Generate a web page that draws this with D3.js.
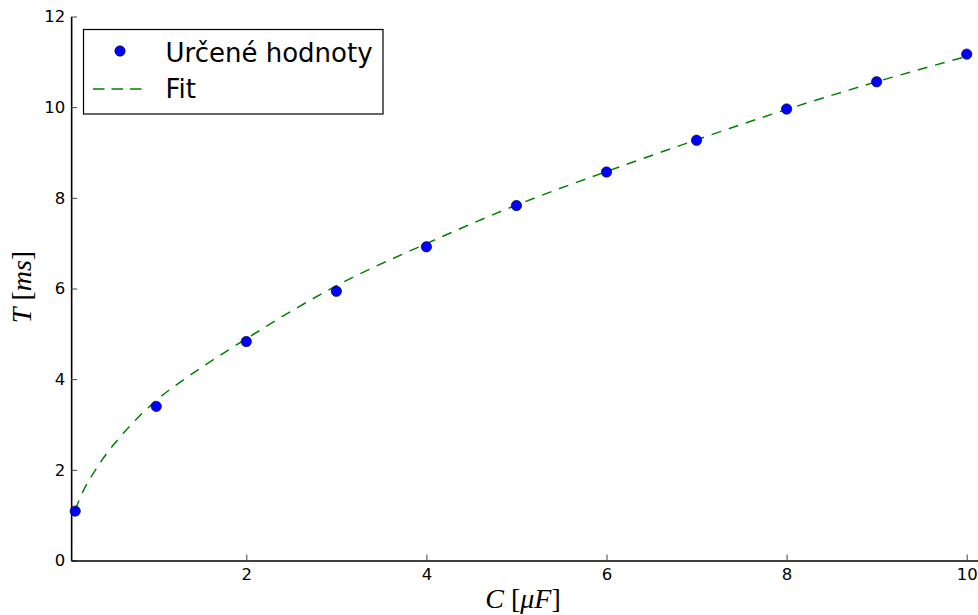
<!DOCTYPE html>
<html>
<head>
<meta charset="utf-8">
<script src="https://cdn.jsdelivr.net/npm/d3@7"></script>
<style>
  html, body { margin: 0; padding: 0; background: #fff; }
  svg { display: block; }
</style>
</head>
<body>
<svg id="chart" width="978" height="615"></svg>
<script>
// Measured oscillation period T [ms] against capacitance C [µF]
const capacitance = [0.1, 1, 2, 3, 4, 5, 6, 7, 8, 9, 10];
const period = [1.09, 3.40, 4.83, 5.94, 6.92, 7.83, 8.57, 9.27, 9.96, 10.56, 11.17];

// Fitted curve, sampled along C
const fitC = [0.1, 0.2, 0.3, 0.45, 0.7, 1, 1.4, 1.8, 2, 2.5, 3, 4, 5, 6, 7, 8, 9, 10];
const fitT = [1.12, 1.58, 1.92, 2.36, 2.95, 3.53, 4.12, 4.64, 4.89, 5.50, 6.06, 6.99, 7.84, 8.58, 9.28, 9.95, 10.56, 11.12];

const xTicks = [2, 4, 6, 8, 10];
const yTicks = [0, 2, 4, 6, 8, 10, 12];
const legendLabels = ["Určené hodnoty", "Fit"];

const svg = d3.select("#chart");

const pxPerC = 90.05;
const c0 = 66.2;
const xMin = 0.055, xMax = 10.13;
const x = d3.scaleLinear()
  .domain([xMin, xMax])
  .range([c0 + xMin * pxPerC, c0 + xMax * pxPerC]);

const y = d3.scaleLinear()
  .domain([0, 12])
  .range([560.5, 16.5]);

const tickFont = "DejaVu Sans, Verdana, sans-serif";

// Left axis (ticks point inward)
const yAxis = svg.append("g")
  .attr("transform", `translate(${x(xMin)},0)`)
  .call(d3.axisLeft(y).tickValues(yTicks).tickSizeInner(-6).tickSizeOuter(0).tickPadding(6));

// Bottom axis
const xAxis = svg.append("g")
  .attr("transform", `translate(0,${y(0)})`)
  .call(d3.axisBottom(x).tickValues(xTicks).tickSizeInner(-6).tickSizeOuter(0).tickPadding(8));

[xAxis, yAxis].forEach(g => {
  g.select(".domain").attr("stroke", "#000").attr("stroke-width", 1.6);
  g.selectAll(".tick line").attr("stroke", "#444").attr("stroke-width", 1);
  g.selectAll(".tick text")
    .attr("fill", "#000")
    .style("font-family", tickFont)
    .style("font-size", "16.5px");
});

// Fit curve
const fitLine = d3.line()
  .x((d, i) => x(fitC[i]))
  .y(d => y(d))
  .curve(d3.curveMonotoneX);

svg.append("path")
  .datum(fitT)
  .attr("d", fitLine)
  .attr("fill", "none")
  .attr("stroke", "#008000")
  .attr("stroke-width", 1.5)
  .attr("stroke-dasharray", "10,8");

// Measured points
svg.append("g")
  .selectAll("circle")
  .data(period)
  .join("circle")
  .attr("cx", (d, i) => x(capacitance[i]))
  .attr("cy", d => y(d))
  .attr("r", 5.2)
  .attr("fill", "#0000ff")
  .attr("stroke", "#000")
  .attr("stroke-width", 0.6);

// Axis titles (math-style: italic symbols, upright brackets)
const mathFont = "Liberation Serif, DejaVu Serif, serif";

const xTitle = svg.append("text")
  .attr("x", 523)
  .attr("y", 608)
  .attr("text-anchor", "middle")
  .style("font-family", mathFont)
  .style("font-size", "28px")
  .attr("fill", "#000");
xTitle.append("tspan").style("font-style", "italic").text("C");
xTitle.append("tspan").text(" [");
xTitle.append("tspan").style("font-style", "italic").text("μF");
xTitle.append("tspan").text("]");

const yTitle = svg.append("text")
  .attr("transform", "translate(31,287) rotate(-90)")
  .attr("text-anchor", "middle")
  .style("font-family", mathFont)
  .style("font-size", "28px")
  .attr("fill", "#000");
yTitle.append("tspan").style("font-style", "italic").text("T");
yTitle.append("tspan").text(" [");
yTitle.append("tspan").style("font-style", "italic").text("ms");
yTitle.append("tspan").text("]");

// Legend
const legend = svg.append("g");
legend.append("rect")
  .attr("x", 83.5).attr("y", 29.5)
  .attr("width", 299.5).attr("height", 84.5)
  .attr("fill", "#fff")
  .attr("stroke", "#000")
  .attr("stroke-width", 1.2);

legend.append("circle")
  .attr("cx", 120).attr("cy", 51)
  .attr("r", 5.2)
  .attr("fill", "#0000ff")
  .attr("stroke", "#000")
  .attr("stroke-width", 0.6);

legend.append("line")
  .attr("x1", 93).attr("x2", 142)
  .attr("y1", 89).attr("y2", 89)
  .attr("stroke", "#008000")
  .attr("stroke-width", 1.5)
  .attr("stroke-dasharray", "11.5,7");

legend.selectAll("text.lab")
  .data(legendLabels)
  .join("text")
  .attr("class", "lab")
  .attr("x", 165.5)
  .attr("y", (d, i) => i === 0 ? 61.5 : 97.5)
  .style("font-family", tickFont)
  .style("font-size", "26px")
  .attr("fill", "#000")
  .text(d => d);
</script>
</body>
</html>
